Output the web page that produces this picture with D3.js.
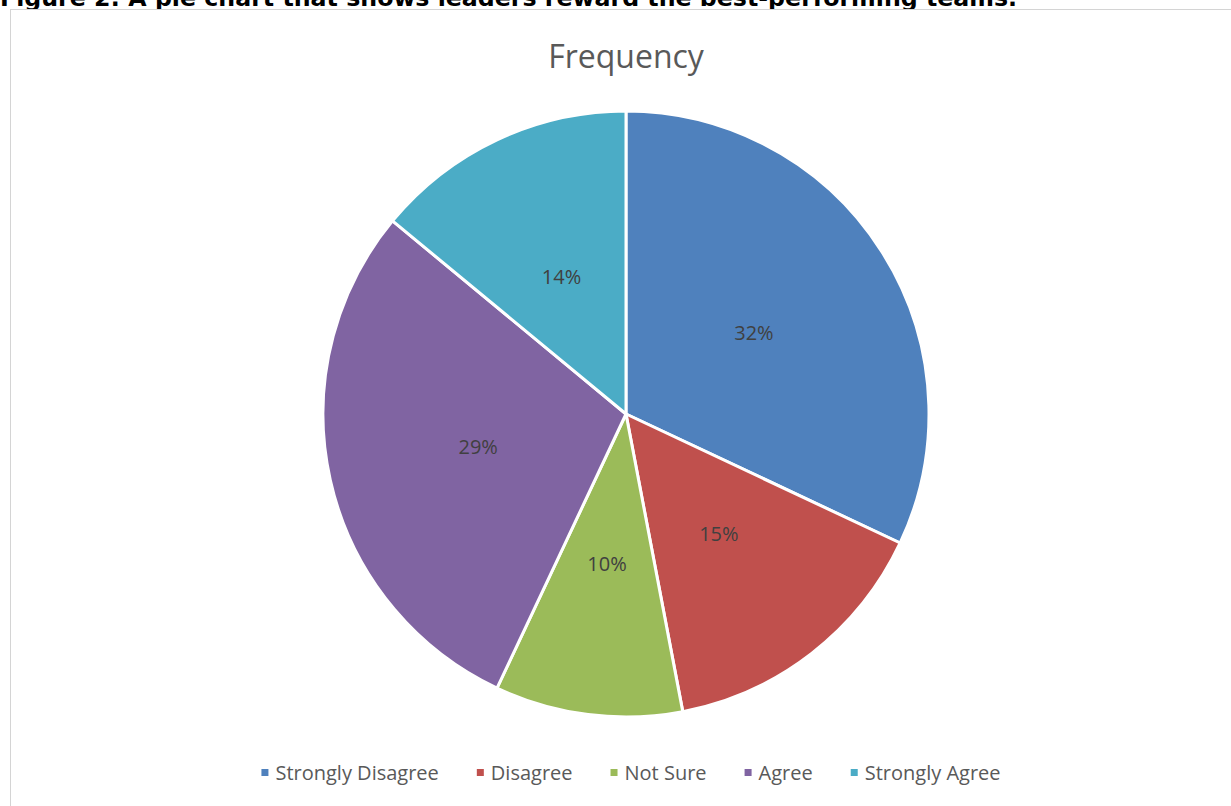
<!DOCTYPE html>
<html>
<head>
<meta charset="utf-8">
<script src="https://cdn.jsdelivr.net/npm/d3@7"></script>
<style>
  body { margin: 0; background: #fff; }
  svg { display: block; }
</style>
</head>
<body>
<svg id="chart" width="1231" height="806"></svg>
<script>
const categories = ["Strongly Disagree", "Disagree", "Not Sure", "Agree", "Strongly Agree"];
const shares = [32, 15, 10, 29, 14];
const colors = ["#4f81bd", "#c0504d", "#9bbb59", "#8064a2", "#4bacc6"];
const chartTitle = "Frequency";
const caption = "Figure 2: A pie chart that shows leaders reward the best-performing teams.";

const svg = d3.select("#chart");
const cx = 626, cy = 414, radius = 303;

// figure caption, cut off by the top of the page
svg.append("text")
  .attr("x", 0)
  .attr("y", 6)
  .attr("font-family", "DejaVu Sans")
  .attr("font-weight", "bold")
  .attr("font-size", 23.7)
  .attr("fill", "#000")
  .text(caption);

// chart area
svg.append("rect")
  .attr("x", 10.5)
  .attr("y", 9.5)
  .attr("width", 1230)
  .attr("height", 820)
  .attr("fill", "#fff")
  .attr("stroke", "#d4d4d4");

svg.append("text")
  .attr("x", cx)
  .attr("y", 68)
  .attr("text-anchor", "middle")
  .attr("font-family", "Open Sans")
  .attr("font-size", 32)
  .attr("fill", "#595959")
  .text(chartTitle);

const data = categories.map((name, i) => ({ name, value: shares[i], color: colors[i] }));

const pie = d3.pie().sort(null).value(d => d.value);
const arc = d3.arc().innerRadius(0).outerRadius(radius);

const g = svg.append("g").attr("transform", `translate(${cx},${cy})`);

g.selectAll("path.slice")
  .data(pie(data))
  .join("path")
  .attr("class", "slice")
  .attr("d", arc)
  .attr("fill", d => d.data.color)
  .attr("stroke", "#fff")
  .attr("stroke-width", 3)
  .attr("stroke-linejoin", "round");

g.selectAll("text.label")
  .data(pie(data))
  .join("text")
  .attr("class", "label")
  .attr("transform", d => `translate(${arc.centroid(d)})`)
  .attr("text-anchor", "middle")
  .attr("dy", "0.35em")
  .attr("font-family", "Open Sans")
  .attr("font-size", 20)
  .attr("fill", "#404040")
  .text(d => d.data.value + "%");

// legend, centred under the pie
const legend = svg.append("g");
const items = legend.selectAll("g.item")
  .data(data)
  .join("g")
  .attr("class", "item");

items.append("rect")
  .attr("width", 7)
  .attr("height", 7)
  .attr("y", -4)
  .attr("fill", d => d.color);

items.append("text")
  .attr("x", 14)
  .attr("dy", "0.35em")
  .attr("font-family", "Open Sans")
  .attr("font-size", 20)
  .attr("fill", "#595959")
  .text(d => d.name);

const gap = 38;
let offset = 0;
items.each(function () {
  const w = 14 + d3.select(this).select("text").node().getComputedTextLength();
  d3.select(this).attr("transform", `translate(${offset},0)`);
  offset += w + gap;
});
const legendWidth = offset - gap;
legend.attr("transform", `translate(${631 - legendWidth / 2},773)`);
</script>
</body>
</html>
